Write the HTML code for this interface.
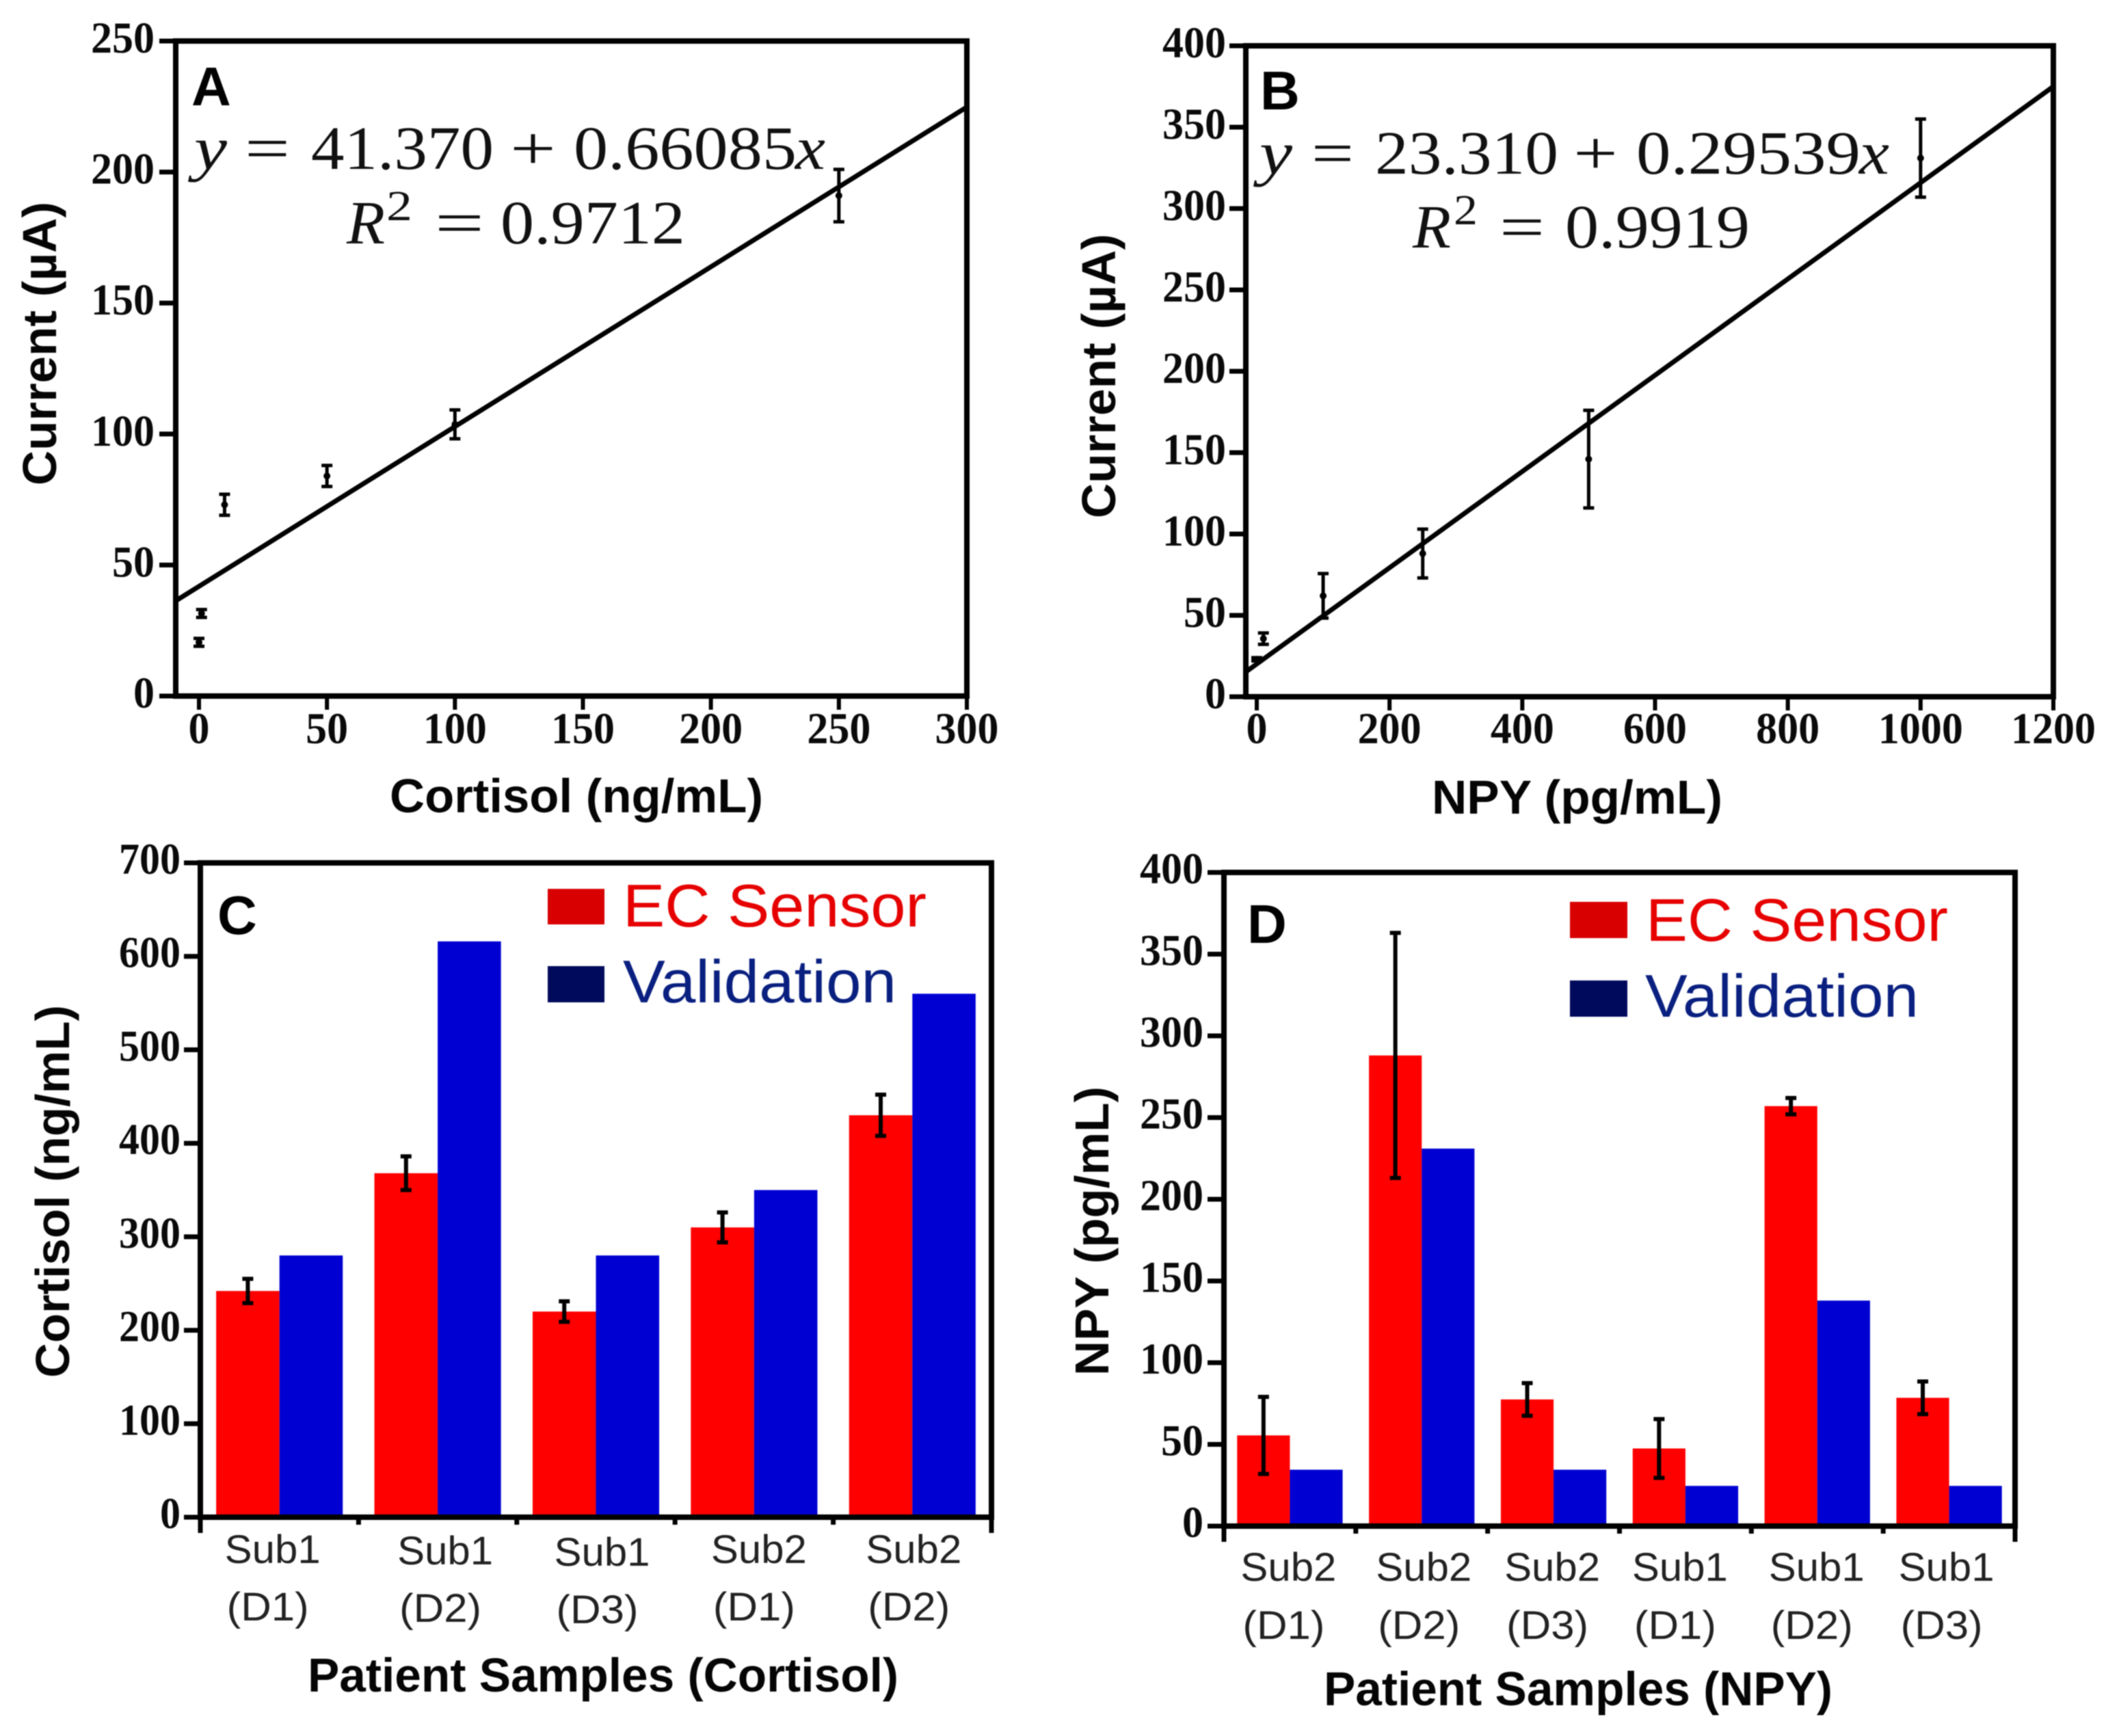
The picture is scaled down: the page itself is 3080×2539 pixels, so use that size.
<!DOCTYPE html>
<html lang="en">
<head>
<meta charset="utf-8">
<title>Cortisol and NPY calibration and patient samples</title>
<style>
  html, body { margin: 0; padding: 0; background: #fff; }
  #figure { display: block; width: 3080px; height: 2539px; filter: blur(0.7px); }
  .tick { font-family: "Liberation Serif", serif; font-weight: 700; font-size: 65px; fill: #0a0a0a; }
  .title { font-family: "Liberation Sans", sans-serif; font-weight: 700; font-size: 70px; fill: #050505; }
  .letter { font-family: "Liberation Sans", sans-serif; font-weight: 700; font-size: 80px; fill: #000; }
  .eq { font-family: "Liberation Serif", serif; font-size: 90px; fill: #111; }
  .cat { font-family: "Liberation Sans", sans-serif; font-size: 58px; fill: #222; }
  .legend { font-family: "Liberation Sans", sans-serif; font-size: 88px; }
</style>
</head>
<body>
<svg id="figure" xmlns="http://www.w3.org/2000/svg" width="3080" height="2539" viewBox="0 0 3080 2539">
  <rect width="3080" height="2539" fill="#fff"/>

  <!-- Panel letters -->
  <text class="letter" x="280" y="154">A</text>
  <text class="letter" x="1843" y="160">B</text>
  <text class="letter" x="318" y="1366">C</text>
  <text class="letter" x="1824" y="1379">D</text>

  <!-- Equations -->
  <g>
    <text class="eq" font-style="italic" x="284" y="247" textLength="48" lengthAdjust="spacingAndGlyphs">y</text>
    <text class="eq" x="358" y="247" textLength="66" lengthAdjust="spacingAndGlyphs">=</text>
    <text class="eq" x="455" y="247" textLength="267" lengthAdjust="spacingAndGlyphs">41.370</text>
    <text class="eq" x="746" y="247" textLength="67" lengthAdjust="spacingAndGlyphs">+</text>
    <text class="eq" x="839" y="247" textLength="326" lengthAdjust="spacingAndGlyphs">0.66085</text>
    <text class="eq" font-style="italic" x="1163" y="247" textLength="44" lengthAdjust="spacingAndGlyphs">x</text>
  </g>
  <g>
    <text class="eq" font-style="italic" x="507" y="356" textLength="56" lengthAdjust="spacingAndGlyphs">R</text>
    <text class="eq" style="font-size:62px" x="565" y="322" textLength="38" lengthAdjust="spacingAndGlyphs">2</text>
    <text class="eq" x="636" y="356" textLength="72" lengthAdjust="spacingAndGlyphs">=</text>
    <text class="eq" x="732" y="356" textLength="270" lengthAdjust="spacingAndGlyphs">0.9712</text>
  </g>
  <g>
    <text class="eq" font-style="italic" x="1842" y="254" textLength="48" lengthAdjust="spacingAndGlyphs">y</text>
    <text class="eq" x="1918" y="254" textLength="62" lengthAdjust="spacingAndGlyphs">=</text>
    <text class="eq" x="2011" y="254" textLength="268" lengthAdjust="spacingAndGlyphs">23.310</text>
    <text class="eq" x="2301" y="254" textLength="65" lengthAdjust="spacingAndGlyphs">+</text>
    <text class="eq" x="2393" y="254" textLength="328" lengthAdjust="spacingAndGlyphs">0.29539</text>
    <text class="eq" font-style="italic" x="2719" y="254" textLength="44" lengthAdjust="spacingAndGlyphs">x</text>
  </g>
  <g>
    <text class="eq" font-style="italic" x="2066" y="362" textLength="56" lengthAdjust="spacingAndGlyphs">R</text>
    <text class="eq" style="font-size:62px" x="2126" y="328" textLength="35" lengthAdjust="spacingAndGlyphs">2</text>
    <text class="eq" x="2193" y="362" textLength="66" lengthAdjust="spacingAndGlyphs">=</text>
    <text class="eq" x="2289" y="362" textLength="270" lengthAdjust="spacingAndGlyphs">0.9919</text>
  </g>

  <!-- Axis titles -->
  <text class="title" x="570" y="1188" textLength="546" lengthAdjust="spacingAndGlyphs">Cortisol (ng/mL)</text>
  <text class="title" x="2094" y="1190" textLength="425" lengthAdjust="spacingAndGlyphs">NPY (pg/mL)</text>
  <text class="title" x="450" y="2474" textLength="864" lengthAdjust="spacingAndGlyphs">Patient Samples (Cortisol)</text>
  <text class="title" x="1936" y="2494" textLength="744" lengthAdjust="spacingAndGlyphs">Patient Samples (NPY)</text>
  <text class="title" transform="translate(82 710) rotate(-90)" textLength="415" lengthAdjust="spacingAndGlyphs">Current (µA)</text>
  <text class="title" transform="translate(1631 758) rotate(-90)" textLength="416" lengthAdjust="spacingAndGlyphs">Current (µA)</text>
  <text class="title" transform="translate(101 2015) rotate(-90)" textLength="545" lengthAdjust="spacingAndGlyphs">Cortisol (ng/mL)</text>
  <text class="title" transform="translate(1621 2012) rotate(-90)" textLength="423" lengthAdjust="spacingAndGlyphs">NPY (pg/mL)</text>

  <!-- Legends -->
  <g>
    <rect x="801" y="1300" width="83" height="52" fill="#d80000"/>
    <text class="legend" x="911" y="1355" fill="#e60000" textLength="444" lengthAdjust="spacingAndGlyphs">EC Sensor</text>
    <rect x="801" y="1413" width="83" height="53" fill="#000a5c"/>
    <text class="legend" x="911" y="1466" fill="#0a2080" textLength="400" lengthAdjust="spacingAndGlyphs">Validation</text>
  </g>
  <g>
    <rect x="2296" y="1319" width="84" height="53" fill="#d80000"/>
    <text class="legend" x="2407" y="1376" fill="#e60000" textLength="442" lengthAdjust="spacingAndGlyphs">EC Sensor</text>
    <rect x="2296" y="1434" width="84" height="53" fill="#000a5c"/>
    <text class="legend" x="2406" y="1487" fill="#0a2080" textLength="400" lengthAdjust="spacingAndGlyphs">Validation</text>
  </g>

  <g id="panel-a"></g>
  <g id="panel-b"></g>
  <g id="panel-c"></g>
  <g id="panel-d"></g>
</svg>

<script>
// ---- Panel A data ----
const aXTicks = [0, 50, 100, 150, 200, 250, 300];
const aYTicks = [0, 50, 100, 150, 200, 250];
const aConc = [0, 1, 10, 50, 100, 250];
const aCurrent = [20.5, 31.5, 73, 84, 103.7, 191];
const aError = [1.5, 1.5, 4, 4, 5.5, 10];
const aFitX = [-8.8, 300];
const aFitY = [36.5, 224.8];

// ---- Panel B data ----
const bXTicks = [0, 200, 400, 600, 800, 1000, 1200];
const bYTicks = [0, 50, 100, 150, 200, 250, 300, 350, 400];
const bConc = [0, 10, 100, 250, 500, 1000];
const bCurrent = [23, 35.7, 62, 88, 146, 331];
const bError = [1, 3.5, 13.7, 15, 30, 24];
const bFitX = [-17, 1200];
const bFitY = [15.1, 375];

// ---- Panel C data ----
const cCategories = [["Sub1", "(D1)"], ["Sub1", "(D2)"], ["Sub1", "(D3)"], ["Sub2", "(D1)"], ["Sub2", "(D2)"]];
const cYTicks = [0, 100, 200, 300, 400, 500, 600, 700];
const cEcSensor = [242, 368, 220, 310, 430];
const cValidation = [280, 616, 280, 350, 560];
const cError = [13, 18, 11, 16, 22];

// ---- Panel D data ----
const dCategories = [["Sub2", "(D1)"], ["Sub2", "(D2)"], ["Sub2", "(D3)"], ["Sub1", "(D1)"], ["Sub1", "(D2)"], ["Sub1", "(D3)"]];
const dYTicks = [0, 50, 100, 150, 200, 250, 300, 350, 400];
const dEcSensor = [55.5, 288, 77.5, 47.5, 257, 78.5];
const dValidation = [34.5, 231, 34.5, 24.6, 138, 24.6];
const dError = [23.6, 75, 10, 18, 5, 10];

const NS = "http://www.w3.org/2000/svg";

function scale(d0, d1, r0, r1) {
  return function (v) { return r0 + (v - d0) * (r1 - r0) / (d1 - d0); };
}
function svgLine(parent, name, x1, y1, x2, y2, width) {
  const el = document.createElementNS(NS, "line");
  el.setAttribute("x1", x1);
  el.setAttribute("y1", y1);
  el.setAttribute("x2", x2);
  el.setAttribute("y2", y2);
  el.setAttribute("stroke", "#000");
  el.setAttribute("stroke-width", width);
  
  
  parent.appendChild(el);
  return el;
}
function svgText(parent, name, cls, x, y, anchor, str, length) {
  const el = document.createElementNS(NS, "text");
  el.setAttribute("class", cls);
  el.setAttribute("x", x);
  el.setAttribute("y", y);
  el.setAttribute("text-anchor", anchor);
  if (length) {
    el.setAttribute("textLength", length);
    el.setAttribute("lengthAdjust", "spacingAndGlyphs");
  }
  el.textContent = str;
  
  
  parent.appendChild(el);
  return el;
}
function svgRect(parent, name, x, y, w, h, fill) {
  const el = document.createElementNS(NS, "rect");
  el.setAttribute("x", x);
  el.setAttribute("y", y);
  el.setAttribute("width", w);
  el.setAttribute("height", h);
  el.setAttribute("fill", fill);
  
  
  parent.appendChild(el);
  return el;
}
function svgDot(parent, name, cx, cy, r) {
  const el = document.createElementNS(NS, "circle");
  el.setAttribute("cx", cx);
  el.setAttribute("cy", cy);
  el.setAttribute("r", r);
  el.setAttribute("fill", "#000");
  
  
  parent.appendChild(el);
  return el;
}
function frame(parent, left, right, top, bottom) {
  const el = document.createElementNS(NS, "rect");
  el.setAttribute("x", left);
  el.setAttribute("y", top);
  el.setAttribute("width", right - left);
  el.setAttribute("height", bottom - top);
  el.setAttribute("fill", "none");
  el.setAttribute("stroke", "#000");
  el.setAttribute("stroke-width", 8);
  
  
  parent.appendChild(el);
}
function errorBar(parent, x, yLow, yHigh, capHalf, width) {
  svgLine(parent, "error-bar-stem", x, yLow, x, yHigh, width);
  svgLine(parent, "error-bar-cap-low", x - capHalf, yLow, x + capHalf, yLow, width);
  svgLine(parent, "error-bar-cap-high", x - capHalf, yHigh, x + capHalf, yHigh, width);
}
function yAxis(parent, ticks, y, left, labelNudge, labelGap, digitWidth) {
  ticks.forEach(function (t) {
    svgLine(parent, "y-axis-tick", left - 24, y(t), left, y(t), 7);
    svgText(parent, "y-tick-label", "tick", left - labelGap, y(t) + labelNudge, "end", String(t), String(t).length * digitWidth);
  });
}
function drawCalibration(id, xTicks, yTicks, conc, current, err, fitX, fitY, geo) {
  const g = document.getElementById(id);
  const x = scale(0, xTicks[xTicks.length - 1], geo.x0, geo.right);
  const y = scale(0, yTicks[yTicks.length - 1], geo.bottom, geo.top);
  yAxis(g, yTicks, y, geo.left, 17, geo.labelGap, 31);
  xTicks.forEach(function (t) {
    svgLine(g, "x-axis-tick", x(t), geo.bottom, x(t), geo.bottom + 20, 6);
    svgText(g, "x-tick-label", "tick", x(t), 1087, "middle", String(t), String(t).length * 31);
  });
  frame(g, geo.left, geo.right, geo.top, geo.bottom);
  const fit = svgLine(g, "regression-line", x(fitX[0]), y(fitY[0]), x(fitX[1]), y(fitY[1]), 7);
  fit.setAttribute("stroke-linecap", "butt");
  conc.forEach(function (c, i) {
    errorBar(g, x(c), y(current[i] - err[i]), y(current[i] + err[i]), 8, 5);
    svgDot(g, "data-point", x(c), y(current[i]), 5);
  });
}
function drawBars(id, categories, yTicks, ec, val, err, geo) {
  const g = document.getElementById(id);
  const y = scale(0, yTicks[yTicks.length - 1], geo.bottom, geo.top);
  const band = (geo.right - geo.left) / categories.length;
  const barW = band * geo.groupShare / 2;
  const pad = (band - 2 * barW) / 2;
  categories.forEach(function (cat, i) {
    const start = geo.left + i * band + pad;
    svgRect(g, "bar-ec-sensor", start, y(ec[i]), barW, geo.bottom - y(ec[i]), "#ff0000");
    svgRect(g, "bar-validation", start + barW, y(val[i]), barW, geo.bottom - y(val[i]), "#0000d2");
  });
  yAxis(g, yTicks, y, geo.left, 16, geo.labelGap, geo.digitWidth);
  frame(g, geo.left, geo.right, geo.top, geo.bottom);
  for (let i = 0; i <= categories.length; i++) {
    const end = i === 0 || i === categories.length;
    svgLine(g, "x-axis-tick", geo.left + i * band, geo.bottom, geo.left + i * band, geo.bottom + (end ? 23 : 11), 7);
  }
  categories.forEach(function (cat, i) {
    const cx = geo.left + i * band + pad + barW / 2;
    errorBar(g, cx, y(ec[i] - err[i]), y(ec[i] + err[i]), 8, 6);
    const center = geo.left + (i + 0.5) * band + geo.labelShift[i];
    svgText(g, "category-label-subject", "cat", center, geo.line1 + geo.lineShift[i], "middle", cat[0], 140);
    svgText(g, "category-label-day", "cat", center - 7, geo.line2 + geo.lineShift[i], "middle", cat[1], 120);
  });
}

drawCalibration("panel-a", aXTicks, aYTicks, aConc, aCurrent, aError, aFitX, aFitY,
  { left: 257, right: 1414, top: 60, bottom: 1018, x0: 291, labelGap: 31 });
drawCalibration("panel-b", bXTicks, bYTicks, bConc, bCurrent, bError, bFitX, bFitY,
  { left: 1822, right: 3003, top: 67, bottom: 1019, x0: 1838, labelGap: 29 });
drawBars("panel-c", cCategories, cYTicks, cEcSensor, cValidation, cError,
  { left: 293, right: 1450, top: 1262, bottom: 2219, groupShare: 0.8, labelGap: 29, digitWidth: 30,
    labelShift: [-10, 11, 9, 7, 2], lineShift: [-2, 0, 2, -2, -2], line1: 2288, line2: 2372 });
drawBars("panel-d", dCategories, dYTicks, dEcSensor, dValidation, dError,
  { left: 1790, right: 2947, top: 1276, bottom: 2232, groupShare: 0.8, labelGap: 30, digitWidth: 31,
    labelShift: [-2, 3, -2, -8, -1, -4], lineShift: [0, 0, 0, 0, 0, 0], line1: 2312, line2: 2397 });
</script>
</body>
</html>
